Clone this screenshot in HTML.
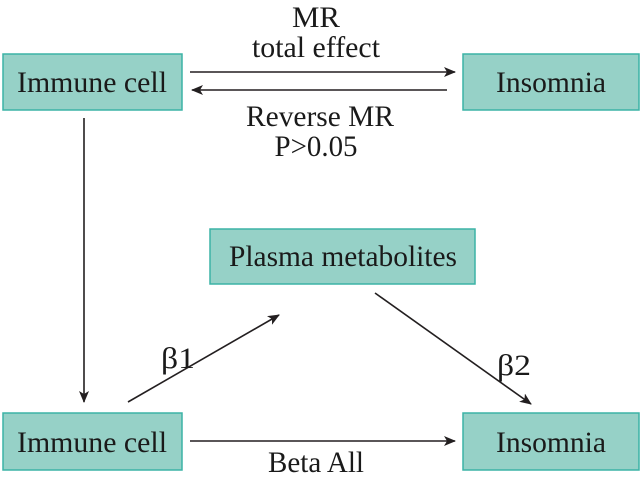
<!DOCTYPE html>
<html><head><style>
body{margin:0;width:642px;height:475px;background:#fff;overflow:hidden}
text{font-family:"Liberation Serif","Times New Roman",serif;font-size:30px;fill:#1a1a1a}
</style></head><body>
<svg width="642" height="475" xmlns="http://www.w3.org/2000/svg">
<defs><marker id="a" markerWidth="12" markerHeight="10" refX="11" refY="5" orient="auto" markerUnits="userSpaceOnUse"><path d="M0,0 L12,5 L0,10 L3,5z" fill="#231f20"/></marker></defs>
<g fill="#96d1c7" stroke="#3bb3a6" stroke-width="1.5">
<rect x="3" y="54" width="179" height="56"/>
<rect x="463" y="54" width="176" height="56"/>
<rect x="210" y="229" width="265" height="55"/>
<rect x="3" y="413" width="179" height="57"/>
<rect x="463" y="413" width="176" height="57"/>
</g>
<g stroke="#231f20" stroke-width="1.6" fill="none">
<line x1="190" y1="72" x2="455" y2="72" marker-end="url(#a)"/>
<line x1="447" y1="90" x2="192" y2="90" marker-end="url(#a)"/>
<line x1="84" y1="118" x2="84" y2="402" marker-end="url(#a)"/>
<line x1="128" y1="402" x2="279" y2="315" marker-end="url(#a)"/>
<line x1="375" y1="293" x2="531" y2="404" marker-end="url(#a)"/>
<line x1="190" y1="441" x2="455" y2="441" marker-end="url(#a)"/>
</g>
<g text-anchor="middle">
<text x="92" y="92" textLength="150" lengthAdjust="spacingAndGlyphs">Immune cell</text>
<text x="551" y="92" textLength="110" lengthAdjust="spacingAndGlyphs">Insomnia</text>
<text x="343" y="266" textLength="228" lengthAdjust="spacingAndGlyphs">Plasma metabolites</text>
<text x="92" y="452" textLength="150" lengthAdjust="spacingAndGlyphs">Immune cell</text>
<text x="551" y="452" textLength="110" lengthAdjust="spacingAndGlyphs">Insomnia</text>
<text x="316" y="27" textLength="48" lengthAdjust="spacingAndGlyphs">MR</text>
<text x="316" y="57" textLength="128" lengthAdjust="spacingAndGlyphs">total effect</text>
<text x="320" y="126" textLength="148" lengthAdjust="spacingAndGlyphs">Reverse MR</text>
<text x="316" y="156" textLength="83" lengthAdjust="spacingAndGlyphs">P&gt;0.05</text>
<text x="178" y="368" textLength="34" lengthAdjust="spacingAndGlyphs">β1</text>
<text x="514" y="375" textLength="34" lengthAdjust="spacingAndGlyphs">β2</text>
<text x="316" y="472" textLength="96" lengthAdjust="spacingAndGlyphs">Beta All</text>
</g>
</svg>
</body></html>
